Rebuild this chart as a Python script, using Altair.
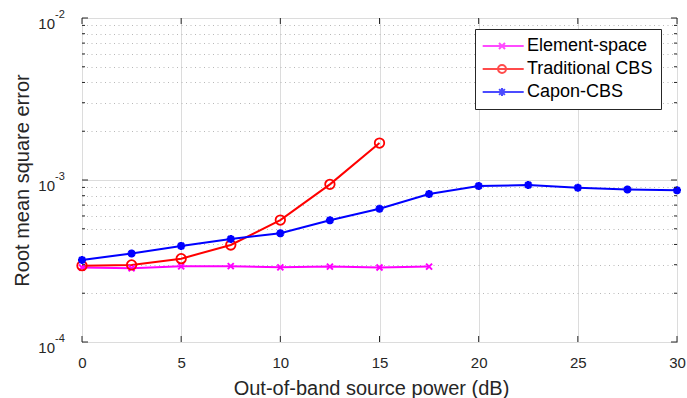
import altair as alt
import pandas as pd

# ---- data ----
x_es = [0, 2.5, 5, 7.5, 10, 12.5, 15, 17.5]
rmse_es = [2.88e-4, 2.85e-4, 2.93e-4, 2.94e-4, 2.89e-4, 2.92e-4, 2.88e-4, 2.92e-4]

x_tcbs = [0, 2.5, 5, 7.5, 10, 12.5, 15]
rmse_tcbs = [2.96e-4, 2.99e-4, 3.27e-4, 3.97e-4, 5.66e-4, 9.4e-4, 1.69e-3]

x_capon = [0, 2.5, 5, 7.5, 10, 12.5, 15, 17.5, 20, 22.5, 25, 27.5, 30]
rmse_capon = [3.21e-4, 3.52e-4, 3.92e-4, 4.32e-4, 4.69e-4, 5.64e-4, 6.65e-4,
              8.2e-4, 9.18e-4, 9.31e-4, 8.97e-4, 8.75e-4, 8.64e-4]

series = ["Element-space", "Traditional CBS", "Capon-CBS"]
colors = ["#FF00FF", "#FF0000", "#0000FF"]

x_ticks = [0, 5, 10, 15, 20, 25, 30]
y_ticks = [m * 10.0 ** e for e in (-4, -3) for m in range(1, 10)] + [1e-2]
y_minor = [m * 10.0 ** e for e in (-4, -3) for m in range(2, 10)]
decades = [1e-4, 1e-3, 1e-2]
decade_exp = ["-4", "-3", "-2"]

rows = []
for name, xs, ys in [(series[0], x_es, rmse_es), (series[1], x_tcbs, rmse_tcbs), (series[2], x_capon, rmse_capon)]:
    for xv, yv in zip(xs, ys):
        rows.append({"series": name, "power": xv, "rmse": yv})
df = pd.DataFrame(rows)
dec_df = pd.DataFrame({"rmse": decades, "exp": decade_exp})
xt_df = pd.DataFrame({"power": x_ticks})
ymin_df = pd.DataFrame({"rmse": y_minor})

# marker shapes (custom SVG paths)
m_cross = "M-1,-1L1,1M-1,1L1,-1"
m_circle = "M1,0A1,1 0 1,1 -1,0A1,1 0 1,1 1,0Z"
m_star = "M-1,0L1,0M0,-1L0,1M-0.72,-0.72L0.72,0.72M-0.72,0.72L0.72,-0.72"
markers = [(m_cross, 36, 2.0), (m_circle, 90, 1.8), (m_star, 64, 2.5)]

# legend symbols: line + marker
L = "M-1.33,0L4.53,0"
leg_cross = L + "M1.0,-0.43L1.86,0.43M1.0,0.43L1.86,-0.43"
leg_circle = L + "M2.0,0A0.57,0.57 0 1,1 0.86,0A0.57,0.57 0 1,1 2.0,0Z"
leg_star = L + "M0.86,0L2.0,0M1.43,-0.57L1.43,0.57M1.02,-0.41L1.84,0.41M1.02,0.41L1.84,-0.41"

FONT = "Liberation Sans"
TXT = "#262626"
W, H = 595, 324

major = "abs(log(datum.value)/LN10 - round(log(datum.value)/LN10)) < 1e-6"

x_scale = alt.Scale(domain=[0, 30], nice=False, zero=False)
y_scale = alt.Scale(type="log", domain=[1e-4, 1e-2], nice=False)

x_enc = alt.X(
    "power:Q", scale=x_scale,
    axis=alt.Axis(
        values=x_ticks, title="Out-of-band source power (dB)", grid=True,
        gridColor="#dcdcdc", gridWidth=1, ticks=False, domain=False,
        labelFont=FONT, labelFontSize=15, labelColor=TXT, labelPadding=13,
        labelFlush=False,
        titleFont=FONT, titleFontSize=20, titleFontWeight="normal", titleColor=TXT,
        titleX=289, titleY=52, titleBaseline="alphabetic",
    ),
)
y_enc = alt.Y(
    "rmse:Q", scale=y_scale,
    axis=alt.Axis(
        values=y_ticks, labels=False, title="Root mean square error",
        grid=True,
        gridDash={"condition": {"test": major, "value": []}, "value": [1, 3.5]},
        gridColor={"condition": {"test": major, "value": "#dcdcdc"}, "value": "#b8b8b8"},
        ticks=False, domain=False,
        titleFont=FONT, titleFontSize=20, titleFontWeight="normal", titleColor=TXT,
        titleX=-60, titleY=162, titleBaseline="middle", titleAlign="center",
    ),
)

base = alt.Chart(df)

layers = []
for i, name in enumerate(series):
    sub = base.transform_filter(alt.datum.series == name)
    enc_x = x_enc if i == 0 else alt.X("power:Q")
    enc_y = y_enc if i == 0 else alt.Y("rmse:Q")
    layers.append(sub.mark_line(strokeWidth=2, color=colors[i]).encode(x=enc_x, y=enc_y))
for i, name in enumerate(series):
    shp, sz, sw = markers[i]
    layers.append(
        base.transform_filter(alt.datum.series == name).mark_point(
            shape=shp, size=sz, filled=False, strokeWidth=sw, color=colors[i], opacity=1
        ).encode(x="power:Q", y="rmse:Q")
    )

# inward tick marks (MATLAB box style)
tick_style = dict(color=TXT, strokeWidth=1)
xt = alt.Chart(xt_df)
layers.append(xt.mark_rule(**tick_style).encode(x="power:Q", y=alt.value(H), y2=alt.value(H - 6)))
layers.append(xt.mark_rule(**tick_style).encode(x="power:Q", y=alt.value(0), y2=alt.value(6)))
dt = alt.Chart(dec_df)
layers.append(dt.mark_rule(**tick_style).encode(y="rmse:Q", x=alt.value(0), x2=alt.value(6)))
layers.append(dt.mark_rule(**tick_style).encode(y="rmse:Q", x=alt.value(W), x2=alt.value(W - 6)))
mt = alt.Chart(ymin_df)
layers.append(mt.mark_rule(**tick_style).encode(y="rmse:Q", x=alt.value(0), x2=alt.value(3)))
layers.append(mt.mark_rule(**tick_style).encode(y="rmse:Q", x=alt.value(W), x2=alt.value(W - 3)))

# legend carrier: points pushed outside the clipped plot area
legend_layer = base.transform_calculate(hidden="datum.rmse * 1e-3").mark_point(
    filled=False, strokeWidth=2, clip=True
).encode(
    x="power:Q", y=alt.Y("hidden:Q"),
    color=alt.Color("series:N", scale=alt.Scale(domain=series, range=colors),
                    legend=alt.Legend(title=None, orient="none", legendX=393, legendY=11)),
    shape=alt.Shape("series:N", scale=alt.Scale(domain=series, range=[leg_cross, leg_circle, leg_star]),
                    legend=alt.Legend(title=None, orient="none", legendX=393, legendY=11)),
)
layers.append(legend_layer)

# y tick labels "10" with raised exponent
layers.append(alt.Chart(dec_df).mark_text(
    text="10", align="right", baseline="middle", font=FONT, fontSize=15, color=TXT, dy=6
).encode(y=alt.Y("rmse:Q"), x=alt.value(-27)))
layers.append(alt.Chart(dec_df).mark_text(
    align="left", baseline="middle", font=FONT, fontSize=11, color=TXT, dy=-3
).encode(y=alt.Y("rmse:Q"), x=alt.value(-27), text="exp:N"))

chart = alt.layer(*layers).properties(
    width=W, height=H,
    autosize=alt.AutoSizeParams(type="none"),
    padding={"left": 82, "top": 18, "right": 10, "bottom": 56},
    background="white",
).configure_view(
    stroke=TXT, strokeWidth=1
).configure_legend(
    strokeColor=TXT, fillColor="white", padding=8, cornerRadius=0,
    labelFont=FONT, labelFontSize=18, labelColor="#000000", labelOffset=26,
    symbolSize=196, symbolStrokeWidth=2, rowPadding=5,
)

chart.save("out.html", embed_options={"renderer": "svg", "actions": False})
